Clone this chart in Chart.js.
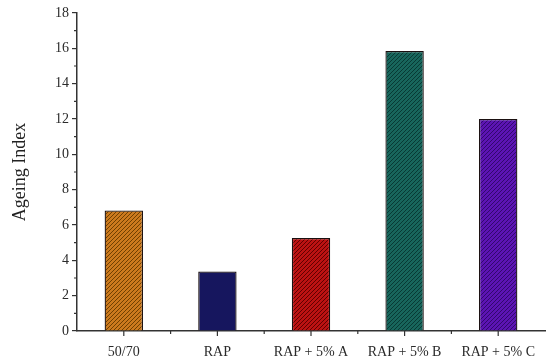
<!DOCTYPE html>
<html>
<head>
<meta charset="utf-8">
<script src="https://cdn.jsdelivr.net/npm/chart.js@4/dist/chart.umd.min.js"></script>
<style>
  html, body { margin: 0; padding: 0; background: #fff; }
  #wrap { width: 550px; height: 359px; }
</style>
</head>
<body>
<div id="wrap"><canvas id="chartAgeing"></canvas></div>
<script>
// Datos
const categorias = ['50/70', 'RAP', 'RAP + 5% A', 'RAP + 5% B', 'RAP + 5% C'];
const indiceEnvejecimiento = [6.82, 3.37, 5.27, 15.85, 12.0];
const ticksY = [0, 2, 4, 6, 8, 10, 12, 14, 16, 18];

// Colores base y de rayado de cada barra
const coloresBase = ['#cc7a1e', '#16165e', '#bc1212', '#18665c', '#5c14b4'];
const coloresRaya = ['#704000', '#16165e', '#600000', '#083a34', '#32086e'];

const fuente = '"Liberation Serif", "Times New Roman", serif';

// Patrón rayado diagonal
function rayado(base, raya) {
  if (base === raya) return base;
  const n = 4;
  const c = document.createElement('canvas');
  c.width = n; c.height = n;
  const g = c.getContext('2d');
  g.fillStyle = base;
  g.fillRect(0, 0, n, n);
  g.strokeStyle = raya;
  g.lineWidth = 1;
  g.beginPath();
  for (let k = -n; k <= 2 * n; k += n) {
    g.moveTo(k, n);
    g.lineTo(k + n, 0);
  }
  g.stroke();
  return g.createPattern(c, 'repeat');
}

// Ticks menores y marcas del eje x
const ticksMenores = {
  id: 'ticksMenores',
  afterDraw(chart) {
    const { ctx, scales: { x, y } } = chart;
    ctx.save();
    ctx.strokeStyle = '#333';
    ctx.lineWidth = 1.2;
    ctx.beginPath();
    // menores del eje y
    for (let v = 1; v < 18; v += 2) {
      const py = y.getPixelForValue(v);
      ctx.moveTo(x.left - 3, py);
      ctx.lineTo(x.left, py);
    }
    // eje x: mayores en el centro, menores entre categorías
    for (let i = 0; i < categorias.length; i++) {
      const px = x.getPixelForValue(i);
      ctx.moveTo(px, y.bottom);
      ctx.lineTo(px, y.bottom + 5);
      if (i < categorias.length - 1) {
        const pm = (px + x.getPixelForValue(i + 1)) / 2;
        ctx.moveTo(pm, y.bottom);
        ctx.lineTo(pm, y.bottom + 3);
      }
    }
    ctx.stroke();
    ctx.restore();
  }
};

const ctx = document.getElementById('chartAgeing').getContext('2d');
new Chart(ctx, {
  type: 'bar',
  data: {
    labels: categorias,
    datasets: [{
      label: 'Ageing Index',
      data: indiceEnvejecimiento,
      backgroundColor: coloresBase.map((b, i) => rayado(b, coloresRaya[i])),
      borderColor: '#1a1010',
      borderWidth: 1.3,
      categoryPercentage: 1,
      barPercentage: 0.41
    }]
  },
  options: {
    responsive: true,
    maintainAspectRatio: false,
    animation: false,
    layout: { padding: { top: 13, right: 5, left: 9, bottom: 0 } },
    plugins: {
      legend: { display: false },
      tooltip: { enabled: false }
    },
    scales: {
      x: {
        offset: true,
        grid: { display: false },
        border: { display: true, color: '#333', width: 1.5 },
        ticks: {
          color: '#2a2a2a',
          font: { family: fuente, size: 14 },
          padding: 5,
          maxRotation: 0
        },
        afterFit(s) { s.height = 28; }
      },
      y: {
        min: 0,
        max: 18,
        afterBuildTicks(s) { s.ticks = ticksY.map(v => ({ value: v })); },
        grid: {
          drawOnChartArea: false,
          drawTicks: true,
          tickLength: 5,
          color: '#333',
          lineWidth: 1.2
        },
        border: { display: true, color: '#333', width: 1.5 },
        ticks: {
          color: '#2a2a2a',
          font: { family: fuente, size: 14 },
          padding: 3
        },
        title: {
          display: true,
          text: 'Ageing Index',
          color: '#222',
          font: { family: fuente, size: 18 },
          padding: { top: 0, bottom: 4 }
        },
        afterFit(s) { s.width = 68; }
      }
    }
  },
  plugins: [ticksMenores]
});
</script>
</body>
</html>
